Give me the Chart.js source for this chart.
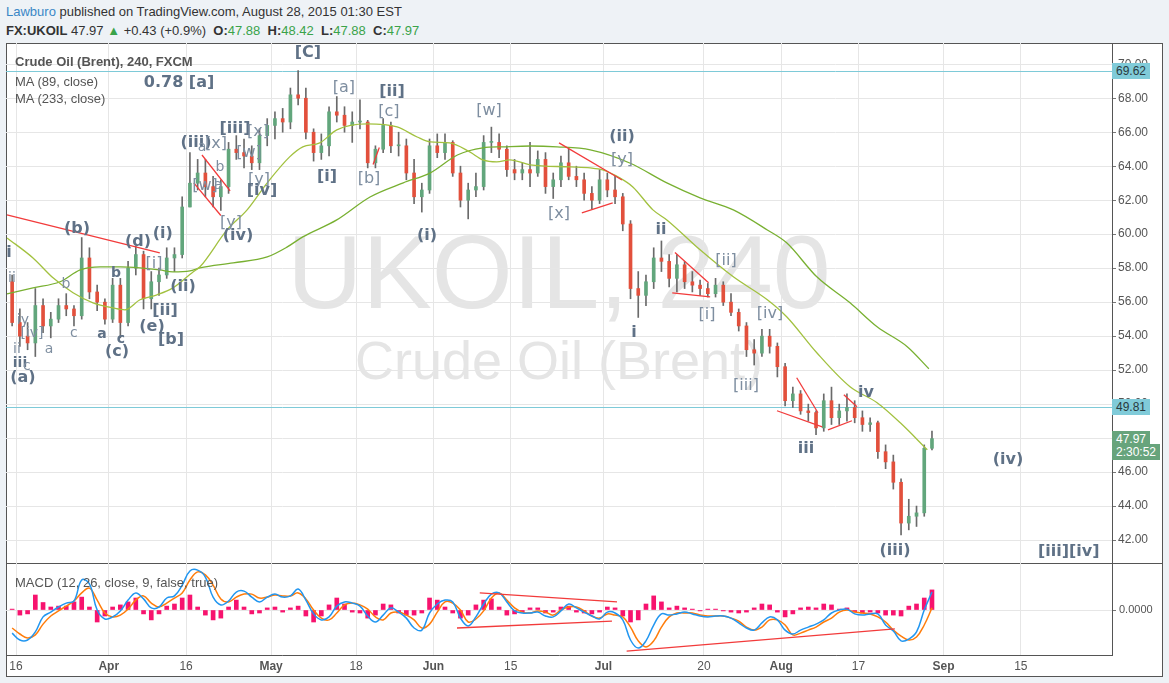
<!DOCTYPE html>
<html lang="en">
<head>
<meta charset="UTF-8">
<title>FX:UKOIL 240 - Lawburo</title>
<script src="https://cdn.jsdelivr.net/npm/chart.js@4.4.1/dist/chart.umd.min.js"></script>
<style>
  html, body { margin: 0; padding: 0; }
  body {
    width: 1169px; height: 683px; position: relative; overflow: hidden;
    background: #eef2f6;
    font-family: "Liberation Sans", Arial, sans-serif;
  }
  .abs { position: absolute; white-space: nowrap; line-height: 1; }
  #head1 { left: 6px; top: 5px; font-size: 13px; color: #333; }
  #head1 .user { color: #3a87c6; }
  #head2 { left: 6px; top: 24px; font-size: 13px; color: #333; }
  #head2 .g { color: #3aa34a; }
  #frame { left: 6px; top: 43px; width: 1155px; height: 632px; border: 1px solid #555; background: #fff; }
  #sep { left: 6px; top: 563px; width: 1156px; height: 1px; background: #555; }
  .wm { left: 6px; width: 1106px; text-align: center; color: #e5e5e5; }
  #wm1 { top: 220px; font-size: 104px; }
  #wm2 { top: 333px; font-size: 54px; }
  canvas { position: absolute; left: 6px; }
  #price { top: 43px; }
  #macd { top: 563px; }
  .legend { left: 15px; font-size: 13px; color: #555; }
  .wave { position: absolute; transform: translate(-50%, -50%); font-family: "DejaVu Sans", sans-serif;
          line-height: 1; white-space: nowrap; }
  .wave.b { font-weight: bold; color: #5f7186; font-size: 16px; }
  .wave.n { color: #7e8ea0; font-size: 16px; }
  .wave.s { color: #7e8ea0; font-size: 14px; }
  .wave.sb { font-weight: bold; color: #5f7186; font-size: 14px; }
  .tag { position: absolute; left: 1112px; font-size: 12px; line-height: 1; padding: 2px 4px 2px 4px;
         transform: translateY(-50%); white-space: nowrap; }
</style>
</head>
<body>
  <div id="head1" class="abs"><span class="user">Lawburo</span> published on TradingView.com, August 28, 2015 01:30 EST</div>
  <div id="head2" class="abs"><b>FX:UKOIL</b> 47.97 <span class="g">&#9650;</span> +0.43 (+0.9%) &nbsp;<b>O:</b><span class="g">47.88</span> &nbsp;<b>H:</b><span class="g">48.42</span> &nbsp;<b>L:</b><span class="g">47.88</span> &nbsp;<b>C:</b><span class="g">47.97</span></div>

  <div id="frame" class="abs"></div>
  <div id="wm1" class="abs wm">UKOIL, 240</div>
  <div id="wm2" class="abs wm">Crude Oil (Brent)</div>
  <div id="sep" class="abs"></div>

  <canvas id="price" width="1156" height="520"></canvas>
  <canvas id="macd" width="1156" height="113"></canvas>

  <div class="abs legend" style="top:55px;font-weight:bold">Crude Oil (Brent), 240, FXCM</div>
  <div class="abs legend" style="top:75px">MA (89, close)</div>
  <div class="abs legend" style="top:92px">MA (233, close)</div>
  <div class="abs legend" style="top:576px">MACD (12, 26, close, 9, false, true)</div>
  <div id="overlay"></div>

<script>
// ---- data: one entry per trading day (FXCM UKOIL) ----
const days = [
  'Mar 13','Mar 16','Mar 17','Mar 18','Mar 19','Mar 20','Mar 23','Mar 24','Mar 25','Mar 26',
  'Mar 27','Mar 30','Mar 31','Apr 1','Apr 2','Apr 6','Apr 7','Apr 8','Apr 9','Apr 10',
  'Apr 13','Apr 14','Apr 15','Apr 16','Apr 17','Apr 20','Apr 21','Apr 22','Apr 23','Apr 24',
  'Apr 27','Apr 28','Apr 29','Apr 30','May 1','May 4','May 5','May 6','May 7','May 8',
  'May 11','May 12','May 13','May 14','May 15','May 18','May 19','May 20','May 21','May 22',
  'May 25','May 26','May 27','May 28','May 29','Jun 1','Jun 2','Jun 3','Jun 4','Jun 5',
  'Jun 8','Jun 9','Jun 10','Jun 11','Jun 12','Jun 15','Jun 16','Jun 17','Jun 18','Jun 19',
  'Jun 22','Jun 23','Jun 24','Jun 25','Jun 26','Jun 29','Jun 30','Jul 1','Jul 2','Jul 3',
  'Jul 6','Jul 7','Jul 8','Jul 9','Jul 10','Jul 13','Jul 14','Jul 15','Jul 16','Jul 17',
  'Jul 20','Jul 21','Jul 22','Jul 23','Jul 24','Jul 27','Jul 28','Jul 29','Jul 30','Jul 31',
  'Aug 3','Aug 4','Aug 5','Aug 6','Aug 7','Aug 10','Aug 11','Aug 12','Aug 13','Aug 14',
  'Aug 17','Aug 18','Aug 19','Aug 20','Aug 21','Aug 24','Aug 25','Aug 26','Aug 27','Aug 28'
]

const open = [
  57.2,54.8,54.0,53.6,55.8,54.6,55.0,55.8,55.6,55.2,
  58.6,56.6,56.0,55.0,57.0,54.8,58.0,58.8,56.2,57.2,
  57.6,58.6,58.8,61.6,63.0,63.6,62.8,62.2,62.8,65.0,
  64.8,64.6,64.2,65.8,66.4,66.8,66.6,68.2,68.0,66.0,
  64.8,65.2,67.2,67.0,66.4,66.6,66.6,64.2,65.0,66.4,
  65.2,65.2,63.6,62.2,62.6,65.2,64.8,65.4,63.6,62.0,
  62.6,62.8,65.4,65.4,65.0,63.8,63.6,63.8,63.6,64.4,
  62.8,63.2,64.2,63.4,63.2,62.4,62.0,63.2,62.6,62.2,
  60.6,56.8,56.4,57.2,58.6,58.4,57.4,58.2,57.2,57.0,
  56.8,56.5,57.0,56.0,55.4,54.6,53.2,53.0,54.0,53.4,
  52.2,50.2,50.6,49.6,49.5,48.6,50.2,49.2,49.6,49.8,
  49.2,48.8,48.9,47.2,46.6,45.4,43.0,43.4,43.6,47.4
]
const high = [
  57.6,55.6,54.8,56.8,56.2,55.4,56.2,56.5,55.8,59.8,
  59.2,57.0,56.2,57.4,57.4,58.4,59.3,59.0,57.8,58.0,
  59.2,59.2,62.2,64.8,64.4,64.4,63.4,63.2,65.4,65.8,
  65.6,65.2,66.2,66.8,67.2,67.4,68.6,69.62,68.6,66.2,
  65.9,67.5,68.1,67.5,67.2,67.9,66.7,65.2,66.8,66.6,
  66.0,65.6,64.4,63.0,65.6,65.9,65.9,65.5,64.0,63.0,
  63.6,65.8,66.3,65.9,65.2,64.4,64.2,65.4,64.9,64.8,
  63.6,64.6,65.0,64.0,63.6,62.8,63.8,63.6,63.4,62.4,
  60.8,57.8,57.6,59.2,59.6,58.8,58.8,58.4,57.8,57.3,
  57.1,57.4,57.2,56.5,55.6,54.8,53.8,54.4,54.4,53.6,
  52.4,51.0,50.8,50.0,49.6,50.6,51.0,50.0,50.6,50.2,
  49.6,49.2,49.0,47.6,47.0,45.6,44.4,44.0,47.6,48.42
]
const low = [
  54.6,53.4,53.2,52.8,54.2,53.9,54.8,55.2,54.6,55.0,
  56.2,55.5,54.7,54.8,53.9,54.6,57.6,55.6,55.6,56.4,
  57.4,57.8,58.6,61.6,62.6,62.2,61.6,61.4,62.4,64.4,
  63.9,63.8,63.8,65.2,65.6,66.0,66.2,67.6,65.6,64.3,
  64.4,64.6,66.6,66.0,65.4,66.2,63.9,63.9,64.8,64.8,
  64.6,63.2,61.8,61.3,62.4,64.5,64.4,63.4,61.6,60.9,
  62.2,62.6,64.8,64.5,63.4,63.2,63.2,62.8,63.4,62.4,
  62.1,62.8,63.2,62.8,62.0,61.5,61.8,62.2,61.8,60.2,
  56.2,55.1,55.8,56.8,57.8,56.9,56.6,56.8,56.6,56.4,
  56.3,56.3,55.8,55.2,54.3,52.8,52.3,52.8,53.0,51.6,
  49.9,49.8,49.4,49.0,48.2,48.4,48.8,48.8,49.0,48.9,
  48.4,48.4,46.8,46.2,45.0,42.3,42.6,42.8,43.4,47.3
]
const close = [
  54.8,54.0,53.6,55.8,54.6,55.0,55.8,55.6,55.2,58.6,
  56.6,56.0,55.0,57.0,54.8,58.0,58.8,56.2,57.2,57.6,
  58.6,58.8,61.6,63.0,63.6,62.8,62.2,62.8,65.0,64.8,
  64.6,64.2,65.8,66.4,66.8,66.6,68.2,68.0,66.0,64.8,
  65.2,67.2,67.0,66.4,66.6,66.6,64.2,65.0,66.4,65.2,
  65.2,63.6,62.2,62.6,65.2,64.8,65.4,63.6,62.0,62.6,
  62.8,65.4,65.4,65.0,63.8,63.6,63.8,63.6,64.4,62.8,
  63.2,64.2,63.4,63.2,62.4,62.0,63.2,62.6,62.2,60.6,
  56.8,56.4,57.2,58.6,58.4,57.4,58.2,57.2,57.0,56.8,
  56.5,57.0,56.0,55.4,54.6,53.2,53.0,54.0,53.4,52.2,
  50.2,50.6,49.6,49.5,48.6,50.2,49.2,49.6,49.8,49.2,
  48.8,48.9,47.2,46.6,45.4,43.0,43.4,43.6,47.4,47.97
]

// moving averages (x = trading-day position)
const ma89Day = [-0.16,3.2,5.79,8.38,10.96,13.55,15.1,17.04,19.24,21.31,23.9,24.8,28.3,30.9,33.5,36.4,38.1,40.3,42.5,46.4,50.3,52.9,54.6,57.1,59.7,61.4,63.2,64.9,67.5,72.7,75.3,76.9,79.1,80.8,83.4,85.2,89.5,93.8,98.2,100.7,104.6,108.9,112.4,115.4,118.9]
const ma89Val = [59.78,58.6,57.43,56.55,55.96,55.66,55.55,56.14,56.43,56.84,57.78,58.08,60.25,61.43,63.02,64.55,65.14,65.37,66.14,66.49,66.31,65.72,65.43,65.37,64.84,64.37,64.25,64.37,64.08,63.96,63.9,63.78,63.31,62.78,61.43,60.84,59.08,57.49,56.14,55.14,53.02,51.02,50.08,48.9,47.31]
const ma233Day = [-0.16,3.2,6.7,9.3,11.9,14.5,17.04,19.6,21.3,23.5,24.8,29.1,33.5,36.1,38.1,42.5,46.8,51.1,54.6,58.1,61.4,64.0,67.5,71.0,75.3,80.4,85.2,89.5,93.8,98.2,100.7,104.6,108.9,112.4,116.3,119.1]
const ma233Val = [56.49,56.84,57.2,57.9,58.08,58.08,58.02,57.9,57.78,57.84,58.02,58.31,58.66,59.25,59.84,60.84,62.19,63.02,63.61,64.66,65.08,65.14,65.19,65.14,64.96,64.19,63.02,62.14,61.43,60.25,59.49,57.49,55.96,54.55,53.38,52.08]

// MACD (12, 26, 9): line, signal and histogram, one value per day
const macdLine = [
  -0.77,-1.00,-1.00,-0.73,-0.23,-0.07,0.10,0.23,0.30,1.00,
  0.87,0.00,-0.30,-0.23,-0.03,0.33,0.57,0.37,0.07,0.10,
  0.40,0.47,0.83,1.30,1.33,1.10,0.43,0.17,0.30,0.60,
  0.63,0.43,0.27,0.43,0.53,0.43,0.47,0.70,0.33,-0.13,
  -0.33,-0.23,0.13,0.27,0.23,0.13,-0.20,-0.40,-0.17,0.07,
  -0.07,-0.27,-0.60,-0.67,-0.10,0.20,0.33,0.27,-0.27,-0.53,
  -0.23,0.20,0.53,0.57,0.27,-0.03,-0.10,-0.10,-0.07,-0.20,
  -0.23,-0.03,0.20,0.07,-0.07,-0.20,-0.30,-0.07,-0.10,-0.33,
  -1.00,-1.27,-1.03,-0.50,-0.13,-0.17,-0.13,-0.07,-0.13,-0.20,
  -0.23,-0.20,-0.20,-0.27,-0.43,-0.60,-0.67,-0.43,-0.23,-0.33,
  -0.67,-0.80,-0.67,-0.57,-0.47,-0.33,-0.10,0.00,0.03,-0.13,
  -0.17,-0.13,-0.13,-0.50,-0.70,-1.03,-0.97,-0.73,0.00,0.60
]
const signalLine = [
  -0.60,-0.80,-0.93,-0.83,-0.47,-0.20,-0.03,0.13,0.30,0.57,
  0.73,0.33,-0.10,-0.23,-0.17,0.03,0.33,0.47,0.23,0.10,
  0.23,0.40,0.57,1.00,1.27,1.17,0.83,0.37,0.27,0.43,
  0.53,0.53,0.40,0.43,0.50,0.47,0.47,0.57,0.37,0.00,
  -0.27,-0.33,-0.10,0.17,0.23,0.17,0.03,-0.23,-0.33,-0.10,
  -0.07,-0.17,-0.33,-0.60,-0.47,-0.07,0.27,0.23,0.00,-0.40,
  -0.30,-0.03,0.40,0.57,0.33,0.07,-0.07,-0.10,-0.03,-0.07,
  -0.17,0.00,0.10,0.10,-0.03,-0.20,-0.27,-0.13,-0.17,-0.23,
  -0.57,-1.03,-1.23,-1.03,-0.57,-0.23,-0.10,-0.10,-0.10,-0.17,
  -0.20,-0.20,-0.20,-0.27,-0.37,-0.57,-0.67,-0.57,-0.33,-0.33,
  -0.50,-0.83,-0.77,-0.67,-0.57,-0.40,-0.27,-0.07,0.00,-0.07,
  -0.10,-0.13,-0.23,-0.40,-0.67,-0.87,-1.00,-0.90,-0.50,0.07
]
const histogram = [
  0.03,-0.17,-0.13,0.50,0.25,0.10,0.13,0.13,0.27,0.43,
  0.10,-0.40,-0.20,0.10,0.17,0.27,0.40,-0.13,-0.33,-0.13,
  0.13,0.20,0.40,0.50,0.10,-0.17,-0.33,-0.27,0.10,0.33,
  0.10,-0.13,-0.10,0.07,0.10,-0.07,0.07,0.13,-0.20,-0.40,
  -0.20,0.17,0.40,0.20,-0.07,-0.10,-0.27,-0.17,0.20,0.17,
  -0.10,-0.17,-0.17,-0.10,0.40,0.33,0.10,-0.10,-0.27,-0.17,
  0.17,0.33,0.37,0.10,-0.17,-0.13,-0.07,0.07,0.07,-0.10,
  -0.07,0.10,0.13,-0.07,-0.10,-0.13,-0.07,0.10,0.07,-0.20,
  -0.40,-0.33,0.20,0.47,0.27,0.07,0.13,0.07,0.03,-0.03,
  0.03,0.03,-0.03,-0.07,-0.10,-0.07,0.07,0.20,0.17,-0.07,
  -0.23,-0.13,0.07,0.10,0.07,0.20,0.17,0.03,0.07,-0.07,
  -0.10,-0.07,-0.10,-0.17,-0.17,-0.20,0.13,0.20,0.40,0.67
]

// x axis ticks (trading-day position of each date label)
const tickPos  = [1, 13, 23, 34, 45, 55, 65, 77, 90, 100, 110, 121, 131]
const tickText = ['16', 'Apr', '16', 'May', '18', 'Jun', '15', 'Jul', '20', 'Aug', '17', 'Sep', '15']
const tickMonth = [false, true, false, true, false, true, false, true, false, true, false, true, false]
const priceTicks = [42, 44, 46, 48, 50, 52, 54, 56, 58, 60, 62, 64, 66, 68, 70]

// drawings on the chart: trend lines [day1, price1, day2, price2]
const priceTrends = [
  [-0.17, 61.14, 19.6, 58.9], [25.06, 64.66, 28.7, 62.55], [24.0, 63.02, 27.5, 61.1],
  [47.2, 64.1, 48.0, 65.1], [71.25, 65.37, 79.4, 63.19], [74.2, 61.25, 78.2, 61.84],
  [86.25, 58.92, 90.6, 57.14], [85.9, 56.55, 90.8, 56.31], [102.0, 51.55, 104.75, 49.49],
  [99.45, 49.61, 105.3, 48.66], [106.05, 48.49, 109.15, 49.02], [108.1, 50.55, 109.8, 49.84]
]
const macdTrends = [[61.0, 0.57, 78.75, 0.27], [58.05, -0.6, 78.1, -0.37], [80.0, -1.37, 114.7, -0.63]]
const priceLevels = [69.62, 49.81]

// Elliott wave labels: [text, day, price, kind]
const waveLabels = [
  ['[C]', 38.77, 70.72, 'b'], ['0.78 [a]', 22.09, 68.96, 'b'], ['[a]', 43.43, 68.66, 'n'],
  ['[ii]', 49.64, 68.43, 'b'], ['[c]', 49.25, 67.25, 'n'], ['[i]', 41.23, 63.43, 'b'],
  ['[b]', 46.67, 63.31, 'n'], ['(i)', 54.17, 59.96, 'b'], ['[w]', 62.19, 67.31, 'n'],
  ['[x]', 71.25, 61.25, 'n'], ['(ii)', 79.4, 65.78, 'b'], ['[y]', 79.4, 64.43, 'n'],
  ['ii', 84.44, 60.31, 'b'], ['[ii]', 92.85, 58.49, 'n'], ['i', 80.95, 54.25, 'b'],
  ['[i]', 90.39, 55.31, 'n'], ['[iv]', 98.54, 55.37, 'n'], ['[iii]', 95.44, 51.14, 'n'],
  ['iii', 103.2, 47.43, 'b'], ['iv', 110.96, 50.72, 'b'], ['(iv)', 129.33, 46.78, 'b'],
  ['(iii)', 114.71, 41.43, 'b'], ['[iii][iv]', 137.2, 41.37, 'b'],
  ['(iii)', 24.28, 65.43, 'b'], ['[iii]', 29.33, 66.25, 'b'], ['a', 25.06, 65.19, 's'],
  ['[x]', 26.87, 65.37, 'n'], ['[x]', 32.31, 66.08, 'n'], ['[w]', 31.14, 64.84, 'n'],
  ['[w]', 25.45, 62.9, 'n'], ['a', 27.13, 62.96, 's'], ['b', 27.39, 64.0, 's'],
  ['[y]', 28.81, 60.72, 'n'], ['[y]', 32.44, 63.25, 'n'], ['[iv]', 32.83, 62.61, 'b'],
  ['(iv)', 29.72, 59.96, 'b'], ['(b)', 8.89, 60.37, 'b'], ['b', 7.47, 57.14, 's'],
  ['c', 8.5, 54.25, 's'], ['a', 12.13, 54.19, 'sb'], ['c', 14.58, 53.9, 'sb'],
  ['(c)', 14.07, 53.14, 'b'], ['b', 13.94, 57.78, 'sb'], ['(d)', 16.78, 59.61, 'b'],
  ['(i)', 20.0, 60.08, 'b'], ['[i]', 18.85, 58.31, 'n'], ['(ii)', 22.6, 56.96, 'b'],
  ['[ii]', 20.28, 55.55, 'b'], ['(e)', 18.59, 54.61, 'b'], ['[b]', 21.05, 53.84, 'b'],
  ['(a)', 1.9, 51.6, 'b'], ['i', 0.09, 58.96, 'b'], ['ii', 0.48, 57.49, 's'],
  ['iy', 1.9, 55.02, 's'], ['[iv]', 3.07, 54.25, 's'], ['ii', 1.13, 53.31, 's'],
  ['iii', 1.52, 52.49, 'sb'], ['c', 2.42, 52.31, 's'], ['a', 5.27, 53.31, 's']
]

// ---- chart setup ----
const X_MIN = -0.294, X_MAX = 142.79
const GRID = '#e6e6e6'
const UP = '#62a67c', DOWN = '#e2503c'

// horizontal levels under the candles, trend lines on top
const drawings = {
  id: 'drawings',
  beforeDatasetsDraw(chart, args, opts) {
    const { ctx, chartArea: a, scales: { y } } = chart
    ctx.save()
    ctx.strokeStyle = '#7ecad8'
    ctx.lineWidth = 1
    for (const v of opts.levels || []) {
      const py = Math.round(y.getPixelForValue(v)) + 0.5
      ctx.beginPath(); ctx.moveTo(a.left, py); ctx.lineTo(a.right, py); ctx.stroke()
    }
    ctx.restore()
  },
  afterDatasetsDraw(chart, args, opts) {
    const { ctx, chartArea: a, scales: { x, y } } = chart
    ctx.save()
    ctx.beginPath(); ctx.rect(a.left, a.top, a.width, a.height); ctx.clip()
    ctx.strokeStyle = '#f23b3b'
    ctx.lineWidth = 1.3
    for (const [d1, p1, d2, p2] of opts.lines || []) {
      ctx.beginPath()
      ctx.moveTo(x.getPixelForValue(d1), y.getPixelForValue(p1))
      ctx.lineTo(x.getPixelForValue(d2), y.getPixelForValue(p2))
      ctx.stroke()
    }
    ctx.restore()
  }
}

// keep the plot area exactly where the panes are: no label padding from the axes
function noPad(s) {
  s.paddingTop = 0; s.paddingBottom = 0; s.paddingLeft = 0; s.paddingRight = 0
}

function xAxis(showLabels) {
  return {
    type: 'linear', min: X_MIN, max: X_MAX, offset: false,
    afterBuildTicks: s => { s.ticks = tickPos.map(v => ({ value: v })) },
    ticks: {
      display: showLabels, autoSkip: false, maxRotation: 0, padding: 4, color: '#555',
      callback: (v, i) => tickText[i],
      font: c => ({ family: 'Liberation Sans', size: 12, weight: tickMonth[c.index] ? 'bold' : 'normal' })
    },
    grid: { color: GRID, drawTicks: false, offset: false },
    border: { display: showLabels, color: '#555' },
    afterFit: s => { s.height = showLabels ? 21 : 0; noPad(s) }
  }
}

const candleWicks = days.map((d, i) => ({ x: i + 0.5, y: [low[i], high[i]] }))
const candleBodies = days.map((d, i) => ({ x: i + 0.5, y: [open[i], close[i]] }))
const bodyColors = days.map((d, i) => close[i] >= open[i] ? UP : DOWN)

const priceChart = new Chart(document.getElementById('price'), {
  type: 'bar',
  data: {
    datasets: [
      { type: 'line', data: ma89Day.map((d, i) => ({ x: d, y: ma89Val[i] })), borderColor: '#a2c13f',
        borderWidth: 1.3, pointRadius: 0, cubicInterpolationMode: 'monotone', order: 0 },
      { type: 'line', data: ma233Day.map((d, i) => ({ x: d, y: ma233Val[i] })), borderColor: '#78b031',
        borderWidth: 1.3, pointRadius: 0, cubicInterpolationMode: 'monotone', order: 0 },
      { data: candleBodies, backgroundColor: bodyColors, barThickness: 3, minBarLength: 1, grouped: false, order: 1 },
      { data: candleWicks, backgroundColor: '#6a6a6a', barThickness: 1, grouped: false, order: 2 }
    ]
  },
  options: {
    responsive: false, animation: false, events: [],
    layout: { padding: 0, autoPadding: false },
    plugins: { legend: { display: false }, tooltip: { enabled: false },
               drawings: { levels: priceLevels, lines: priceTrends } },
    scales: {
      x: xAxis(false),
      y: {
        position: 'right', min: 40.65, max: 71.25,
        afterBuildTicks: s => { s.ticks = priceTicks.map(v => ({ value: v })) },
        ticks: { callback: v => v.toFixed(2), color: '#555', padding: 2,
                 font: { family: 'Liberation Sans', size: 12 } },
        grid: { color: GRID, tickLength: 4, tickColor: '#777' },
        border: { color: '#555' },
        afterFit: s => { s.width = 50; noPad(s) }
      }
    }
  },
  plugins: [drawings]
})

const macdChart = new Chart(document.getElementById('macd'), {
  type: 'bar',
  data: {
    datasets: [
      { type: 'line', data: macdLine.map((v, i) => ({ x: i + 0.5, y: v })), borderColor: '#2196f0',
        borderWidth: 1.5, pointRadius: 0, tension: 0.4, order: 0 },
      { type: 'line', data: signalLine.map((v, i) => ({ x: i + 0.5, y: v })), borderColor: '#ff7c0a',
        borderWidth: 1.5, pointRadius: 0, tension: 0.4, order: 1 },
      { data: histogram.map((v, i) => ({ x: i + 0.5, y: v })), backgroundColor: '#f7136e',
        barThickness: 4, order: 2 }
    ]
  },
  options: {
    responsive: false, animation: false, events: [],
    layout: { padding: 0, autoPadding: false },
    plugins: { legend: { display: false }, tooltip: { enabled: false },
               drawings: { lines: macdTrends } },
    scales: {
      x: xAxis(true),
      y: {
        position: 'right', min: -1.5, max: 1.567,
        afterBuildTicks: s => { s.ticks = [{ value: 0 }] },
        ticks: { callback: () => '0.0000', color: '#555', padding: 3,
                 font: { family: 'Liberation Sans', size: 11 } },
        grid: { color: GRID, tickLength: 4, tickColor: '#777' },
        border: { color: '#555' },
        afterFit: s => { s.width = 50; noPad(s) }
      }
    }
  },
  plugins: [drawings]
})

// ---- text overlays placed through the price scales ----
const overlay = document.getElementById('overlay')
const px = d => 6 + priceChart.scales.x.getPixelForValue(d)
const py = p => 43 + priceChart.scales.y.getPixelForValue(p)

for (const [text, d, p, kind] of waveLabels) {
  const el = document.createElement('div')
  el.className = 'wave ' + kind
  el.textContent = text
  el.style.left = px(d) + 'px'
  el.style.top = py(p) + 'px'
  overlay.appendChild(el)
}

function addTag(text, top, bg, fg) {
  const el = document.createElement('div')
  el.className = 'tag'
  el.textContent = text
  el.style.top = top + 'px'
  el.style.background = bg
  el.style.color = fg
  overlay.appendChild(el)
}
addTag('69.62', py(69.62), '#80cbd9', '#2a3a40')
addTag('49.81', py(49.81), '#80cbd9', '#2a3a40')
addTag('47.97', py(47.97), '#67a47c', '#fff')
addTag('2:30:52', py(47.97) + 13, '#67a47c', '#fff')
</script>
</body>
</html>
